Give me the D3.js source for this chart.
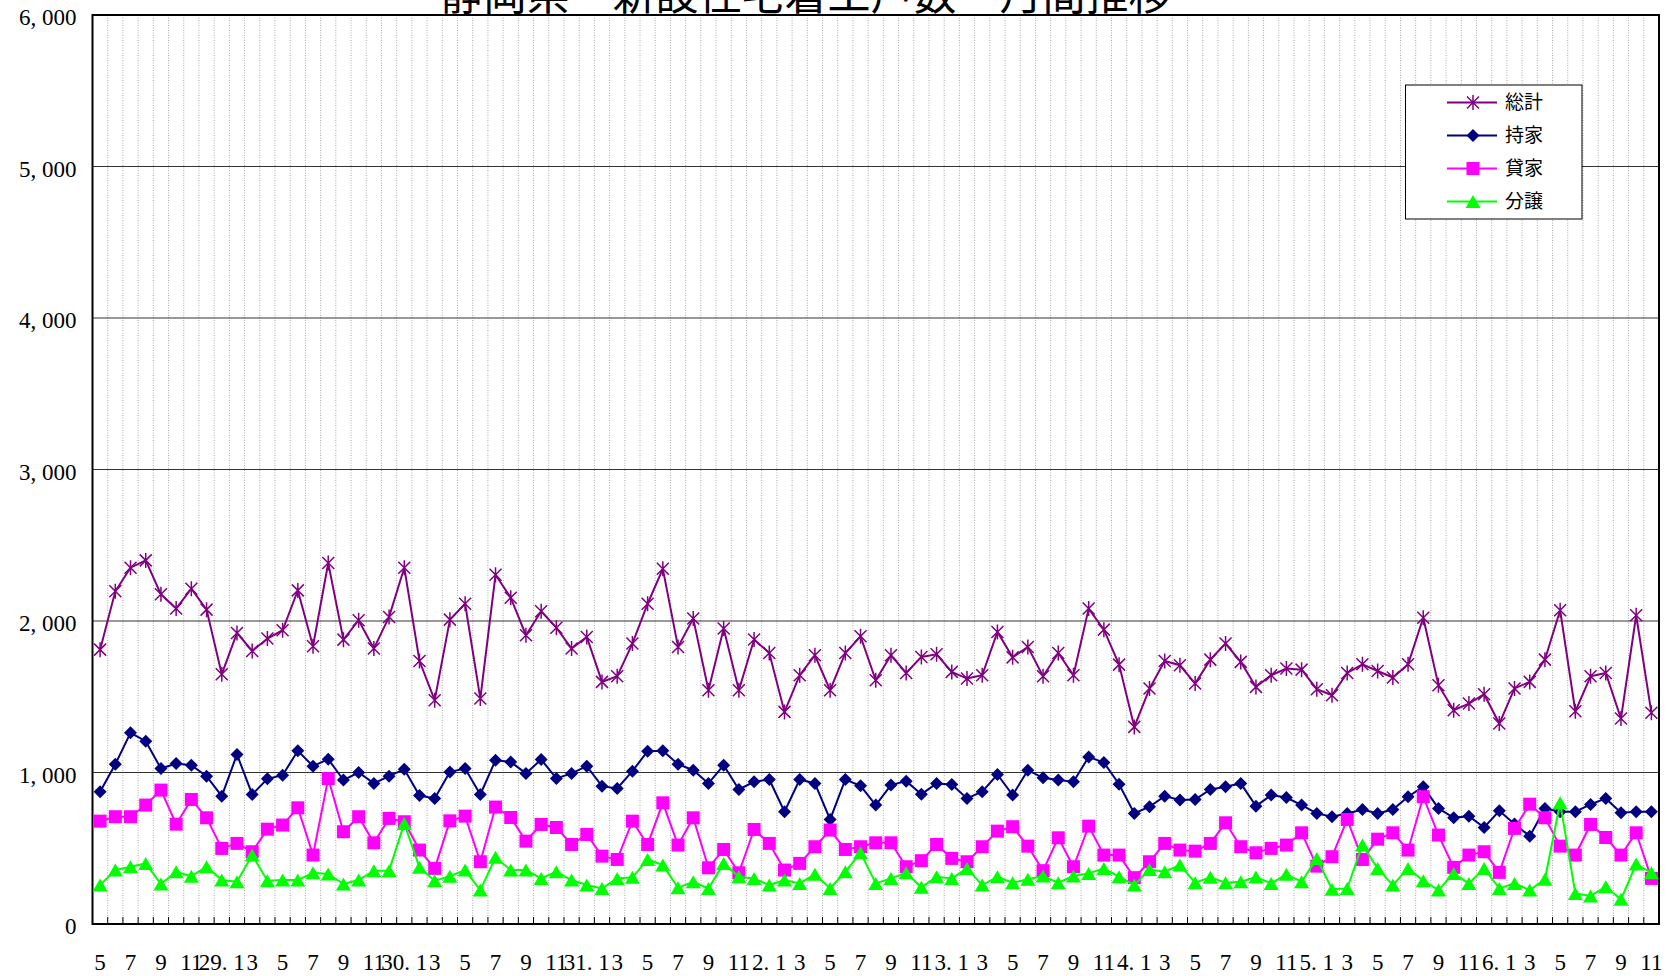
<!DOCTYPE html>
<html>
<head>
<meta charset="utf-8">
<script src="https://cdn.jsdelivr.net/npm/d3@7"></script>
<style>
body { margin: 0; background: #fff; }
</style>
</head>
<body>
<div id="chart"></div>
<script>
// 月ラベル (奇数月のみ表示)
const xLabels = [
  "5","","7","","9","","11","",
  "29. 1","","3","","5","","7","","9","","11","",
  "30. 1","","3","","5","","7","","9","","11","",
  "31. 1","","3","","5","","7","","9","","11","",
  "2. 1","","3","","5","","7","","9","","11","",
  "3. 1","","3","","5","","7","","9","","11","",
  "4. 1","","3","","5","","7","","9","","11","",
  "5. 1","","3","","5","","7","","9","","11","",
  "6. 1","","3","","5","","7","","9","","11"
];

const total = [
  1811,2196,2352,2400,2176,2082,2213,2075,1649,1921,1802,1884,1939,2202,1833,2383,1877,2005,1818,2027,2352,1736,1477,2009,2114,1488,2305,
  2154,1906,2064,1956,1818,1895,1598,1635,1851,2114,2345,1829,2016,1543,1950,1543,1878,
  1789,1400,1642,1774,1543,1789,1899,1609,1774,1657,1763,1780,1664,1620,1642,1928,1760,
  1829,1635,1789,1642,2082,1943,1712,1301,1554,1736,1708,1587,1745,1851,1730,1565,
  1642,1686,1679,1550,1510,1657,1714,1670,1627,1714,2022,1576,1411,1455,1517,1323,1555,
  1598,1745,2071,1404,1635,1657,1356,2038,1394
];
const owner = [
  873,1055,1262,1207,1026,1059,1048,976,844,1119,855,958,982,1143,1042,1088,950,1000,928,976,1022,848,829,1004,1026,855,1081,
  1070,994,1086,961,994,1042,910,895,1009,1141,1143,1055,1015,928,1048,888,939,
  954,741,954,928,690,954,912,785,917,943,857,928,921,829,873,987,851,
  1015,965,950,939,1103,1066,923,730,774,844,818,822,888,906,928,778,
  851,835,785,730,708,730,756,730,756,840,906,763,701,712,637,747,660,
  580,763,741,741,789,829,734,741,741
];
const rental = [
  679,708,708,785,884,659,822,701,499,532,477,626,653,767,455,960,609,708,536,697,675,488,367,681,712,411,772,
  703,547,657,637,525,591,448,426,679,525,800,521,701,371,492,338,624,
  532,356,400,510,620,492,510,536,536,378,418,525,433,411,510,613,642,
  514,352,569,378,646,455,455,306,411,532,488,481,532,668,510,470,
  499,521,602,382,444,690,426,560,602,488,840,587,374,455,477,341,631,
  791,701,514,455,657,571,455,602,301
];
const forSale = [
  257,356,378,400,264,345,316,378,290,279,455,286,290,290,338,330,264,290,352,352,664,374,286,316,356,224,440,
  356,356,301,345,290,257,235,301,308,426,389,240,279,235,400,312,301,
  257,290,268,328,235,345,470,268,301,338,242,312,301,367,257,312,273,
  295,317,273,317,334,367,312,257,360,345,389,273,308,273,279,310,
  268,328,279,433,229,235,521,367,257,367,286,224,334,268,367,235,268,
  224,295,800,202,185,246,163,396,338
];

const yTicks = [0,1000,2000,3000,4000,5000,6000];
const seriesNames = ["総計","持家","貸家","分譲"];
const seriesColors = ["#800080","#000080","#ff00ff","#00ff00"];
const seriesValues = [total, owner, rental, forSale];

const width = 1671, height = 976;
const margin = {top: 15, right: 12, bottom: 52, left: 92.5};

const svg = d3.select("#chart").append("svg")
  .attr("width", width).attr("height", height);

const x = d3.scaleBand()
  .domain(d3.range(xLabels.length))
  .range([margin.left, width - margin.right]);
const y = d3.scaleLinear()
  .domain([0, 6000])
  .range([height - margin.bottom, margin.top]);
const cx = i => x(i) + x.bandwidth() / 2;

// title (上端で切れている)
svg.append("text")
  .attr("x", 806).attr("y", 10)
  .attr("text-anchor", "middle")
  .attr("font-family", "'Noto Sans CJK JP'")
  .attr("font-size", 43)
  .text("静岡県　新設住宅着工戸数　月間推移");

// vertical dotted grid
svg.append("g").selectAll("line")
  .data(d3.range(1, xLabels.length))
  .enter().append("line")
  .attr("x1", d => x(d)).attr("x2", d => x(d))
  .attr("y1", y(6000)).attr("y2", y(0))
  .attr("stroke", "#aaa")
  .attr("stroke-width", 1)
  .attr("stroke-dasharray", "1,1.5");

// horizontal grid
svg.append("g").selectAll("line")
  .data(yTicks.filter(d => d > 0 && d < 6000))
  .enter().append("line")
  .attr("x1", margin.left).attr("x2", width - margin.right)
  .attr("y1", d => y(d)).attr("y2", d => y(d))
  .attr("stroke", "#333")
  .attr("stroke-width", 1);

// bottom tick marks at category borders
svg.append("g").selectAll("line")
  .data(d3.range(1, xLabels.length))
  .enter().append("line")
  .attr("x1", d => x(d)).attr("x2", d => x(d))
  .attr("y1", y(0)).attr("y2", y(0) - 7)
  .attr("stroke", "#000")
  .attr("stroke-width", 1);

// plot frame
svg.append("rect")
  .attr("x", margin.left).attr("y", margin.top)
  .attr("width", width - margin.left - margin.right)
  .attr("height", y(0) - margin.top)
  .attr("fill", "none")
  .attr("stroke", "#000")
  .attr("stroke-width", 2);

// axes
const yAxis = svg.append("g")
  .attr("transform", `translate(${margin.left},0)`)
  .call(d3.axisLeft(y).tickValues(yTicks).tickSize(0).tickPadding(16)
    .tickFormat(d => d3.format(",")(d).replace(",", ", ")));
yAxis.select(".domain").remove();
yAxis.selectAll("text")
  .attr("dy", "0.42em")
  .attr("font-family", "'Liberation Serif'")
  .attr("font-size", 23)
  .attr("fill", "#000");

const xAxis = svg.append("g")
  .attr("transform", `translate(0,${y(0)})`)
  .call(d3.axisBottom(x).tickSize(0).tickPadding(30)
    .tickFormat(i => xLabels[i]));
xAxis.select(".domain").remove();
xAxis.selectAll("text")
  .attr("font-family", "'Liberation Serif'")
  .attr("font-size", 23)
  .attr("fill", "#000");

// markers
const markers = [
  "M-6,-6L6,6M-6,6L6,-6M0,-7.5L0,7.5",
  "M0,-6.5L6.5,0L0,6.5L-6.5,0Z",
  "M-6.5,-6.5H6.5V6.5H-6.5Z",
  "M0,-6.5L7.5,6.5L-7.5,6.5Z"
];

const line = d3.line().x((d, i) => cx(i)).y(d => y(d));

seriesValues.forEach((vals, s) => {
  const g = svg.append("g");
  g.append("path")
    .datum(vals)
    .attr("d", line)
    .attr("fill", "none")
    .attr("stroke", seriesColors[s])
    .attr("stroke-width", 2);
  g.selectAll("path.m")
    .data(vals)
    .enter().append("path")
    .attr("class", "m")
    .attr("transform", (d, i) => `translate(${cx(i)},${y(d)})`)
    .attr("d", markers[s])
    .attr("fill", s === 0 ? "none" : seriesColors[s])
    .attr("stroke", seriesColors[s])
    .attr("stroke-width", s === 0 ? 1.5 : 0);
});

// legend
const lg = svg.append("g");
lg.append("rect")
  .attr("x", 1405.5).attr("y", 85)
  .attr("width", 176.5).attr("height", 134)
  .attr("fill", "#fff")
  .attr("stroke", "#000")
  .attr("stroke-width", 1);
seriesNames.forEach((name, s) => {
  const ly = 102.5 + s * 33;
  lg.append("line")
    .attr("x1", 1447).attr("x2", 1497)
    .attr("y1", ly).attr("y2", ly)
    .attr("stroke", seriesColors[s])
    .attr("stroke-width", 2);
  lg.append("path")
    .attr("transform", `translate(1473,${ly})`)
    .attr("d", markers[s])
    .attr("fill", s === 0 ? "none" : seriesColors[s])
    .attr("stroke", seriesColors[s])
    .attr("stroke-width", s === 0 ? 1.5 : 0);
  lg.append("text")
    .attr("x", 1505).attr("y", ly)
    .attr("dy", "0.36em")
    .attr("font-family", "'Noto Sans CJK JP'")
    .attr("font-size", 19)
    .text(name);
});
</script>
</body>
</html>
